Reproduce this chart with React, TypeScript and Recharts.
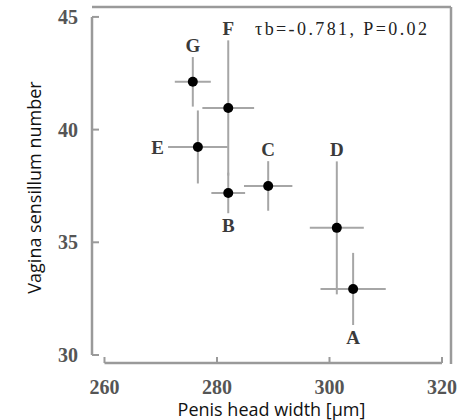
import { ScatterChart, Scatter, XAxis, YAxis, ErrorBar, ReferenceLine, Label } from "recharts";

// species A..G
const species = ["A", "B", "C", "D", "E", "F", "G"];
const headWidth = [304.2, 282.0, 289.1, 301.3, 276.6, 282.0, 275.7];
const headWidthErr = [5.8, 3.0, 4.3, 4.8, 5.3, 4.6, 3.2];
const sensillum = [32.93, 37.19, 37.5, 35.64, 39.23, 40.96, 42.12];
const sensillumErr = [1.6, 0.9, 1.1, 2.95, 1.62, 3.0, 1.1];
const labelSide = ["below", "below", "above", "above", "left", "above", "above"];

const xTicks = [260, 280, 300, 320];
const yTicks = [30, 35, 40, 45];
const statText = "τb=-0.781,  P=0.02";

const X_DOMAIN: [number, number] = [257.78, 321.6];
const Y_DOMAIN: [number, number] = [29.6, 45.44];
const PLOT_W = 359;
const PLOT_H = 357;
const PX_X = PLOT_W / (X_DOMAIN[1] - X_DOMAIN[0]);
const PX_Y = PLOT_H / (Y_DOMAIN[1] - Y_DOMAIN[0]);
const X_AXIS_Y = Y_DOMAIN[0] + 1 / PX_Y;

const data = species.map((s, i) => ({
  name: s,
  x: headWidth[i],
  y: sensillum[i],
  ex: headWidthErr[i],
  ey: sensillumErr[i],
  side: labelSide[i],
}));

const AXIS = "#9a9a9a";
const SERIF = "'Liberation Serif', 'Times New Roman', serif";
const SANS = "'Open Sans', sans-serif";

function PointMark(props: any) {
  const { cx, cy, payload } = props;
  let lx = cx;
  let ly = cy;
  let anchor = "middle";
  if (payload.side === "above") ly = cy - payload.ey * PX_Y - 5;
  else if (payload.side === "below") ly = cy + payload.ey * PX_Y + 19;
  else {
    lx = cx - payload.ex * PX_X - 4;
    ly = cy + 7;
    anchor = "end";
  }
  return (
    <g>
      <circle cx={cx} cy={cy} r={5} fill="#000" />
      <text x={lx} y={ly} textAnchor={anchor} fontFamily={SERIF} fontWeight="bold" fontSize={19} fill="#3a3a3a">
        {payload.name}
      </text>
    </g>
  );
}

function XTick({ x, y, payload }: any) {
  return (
    <g>
      <line x1={x} y1={y - 1} x2={x} y2={y - 7} stroke={AXIS} strokeWidth={2} />
      <text x={x} y={y + 30} textAnchor="middle" fontFamily={SERIF} fontWeight="bold" fontSize={20} fill="#555">
        {payload.value}
      </text>
    </g>
  );
}

function YTick({ x, y, payload }: any) {
  return (
    <g>
      <line x1={x} y1={y} x2={x + 7} y2={y} stroke={AXIS} strokeWidth={2} />
      <text x={x - 14} y={y + 7} textAnchor="end" fontFamily={SERIF} fontWeight="bold" fontSize={20} fill="#555">
        {payload.value}
      </text>
    </g>
  );
}

export default function App() {
  return (
    <div style={{ position: "absolute", left: 0, top: 0, width: 467, height: 420, background: "#fff" }}>
      <ScatterChart width={467} height={420} margin={{ top: 7, right: 16, bottom: 0, left: 0 }}>
        <XAxis
          type="number"
          dataKey="x"
          domain={X_DOMAIN}
          allowDataOverflow
          ticks={xTicks}
          axisLine={false}
          tickLine={false}
          tickSize={0}
          tickMargin={0}
          height={56}
          tick={<XTick />}
        >
          <Label
            content={(p: any) => {
              const vb = p.viewBox;
              return (
                <text x={vb.x + vb.width / 2} y={vb.y + 52} textAnchor="middle" fontFamily={SANS} fontSize={18} fill="#111">
                  Penis head width [μm]
                </text>
              );
            }}
          />
        </XAxis>
        <YAxis
          type="number"
          dataKey="y"
          domain={Y_DOMAIN}
          allowDataOverflow
          ticks={yTicks}
          axisLine={false}
          tickLine={false}
          tickSize={0}
          tickMargin={0}
          width={92}
          tick={<YTick />}
        >
          <Label
            content={(p: any) => {
              const vb = p.viewBox;
              const cx = vb.x + 41;
              const cy = vb.y + vb.height / 2 + 2;
              return (
                <text
                  x={cx}
                  y={cy}
                  transform={`rotate(-90 ${cx} ${cy})`}
                  textAnchor="middle"
                  fontFamily={SANS}
                  fontSize={18}
                  fill="#111"
                >
                  Vagina sensillum number
                </text>
              );
            }}
          />
        </YAxis>

        {/* frame top + right */}
        <ReferenceLine y={Y_DOMAIN[1]} stroke={AXIS} strokeWidth={2.5} ifOverflow="visible" />
        <ReferenceLine x={X_DOMAIN[1]} stroke={AXIS} strokeWidth={2.5} ifOverflow="visible" />
        {/* detached axis lines */}
        <ReferenceLine
          segment={[{ x: X_DOMAIN[0], y: yTicks[0] }, { x: X_DOMAIN[0], y: yTicks[yTicks.length - 1] }]}
          stroke={AXIS}
          strokeWidth={2.5}
          ifOverflow="visible"
        />
        <ReferenceLine
          segment={[{ x: xTicks[0], y: X_AXIS_Y }, { x: xTicks[xTicks.length - 1], y: X_AXIS_Y }]}
          stroke={AXIS}
          strokeWidth={2.5}
          ifOverflow="visible"
        />

        <Scatter data={data} isAnimationActive={false} shape={<PointMark />}>
          <ErrorBar dataKey="ex" direction="x" width={0} stroke="#a6a6a6" strokeWidth={2} isAnimationActive={false} />
          <ErrorBar dataKey="ey" direction="y" width={0} stroke="#a6a6a6" strokeWidth={2} isAnimationActive={false} />
        </Scatter>
      </ScatterChart>
      <svg width={467} height={420} style={{ position: "absolute", left: 0, top: 0, pointerEvents: "none" }}>
        <text x={255} y={35} textLength={172} lengthAdjust="spacing" fontFamily={SERIF} fontSize={18} fill="#222">
          {statText}
        </text>
      </svg>
    </div>
  );
}
